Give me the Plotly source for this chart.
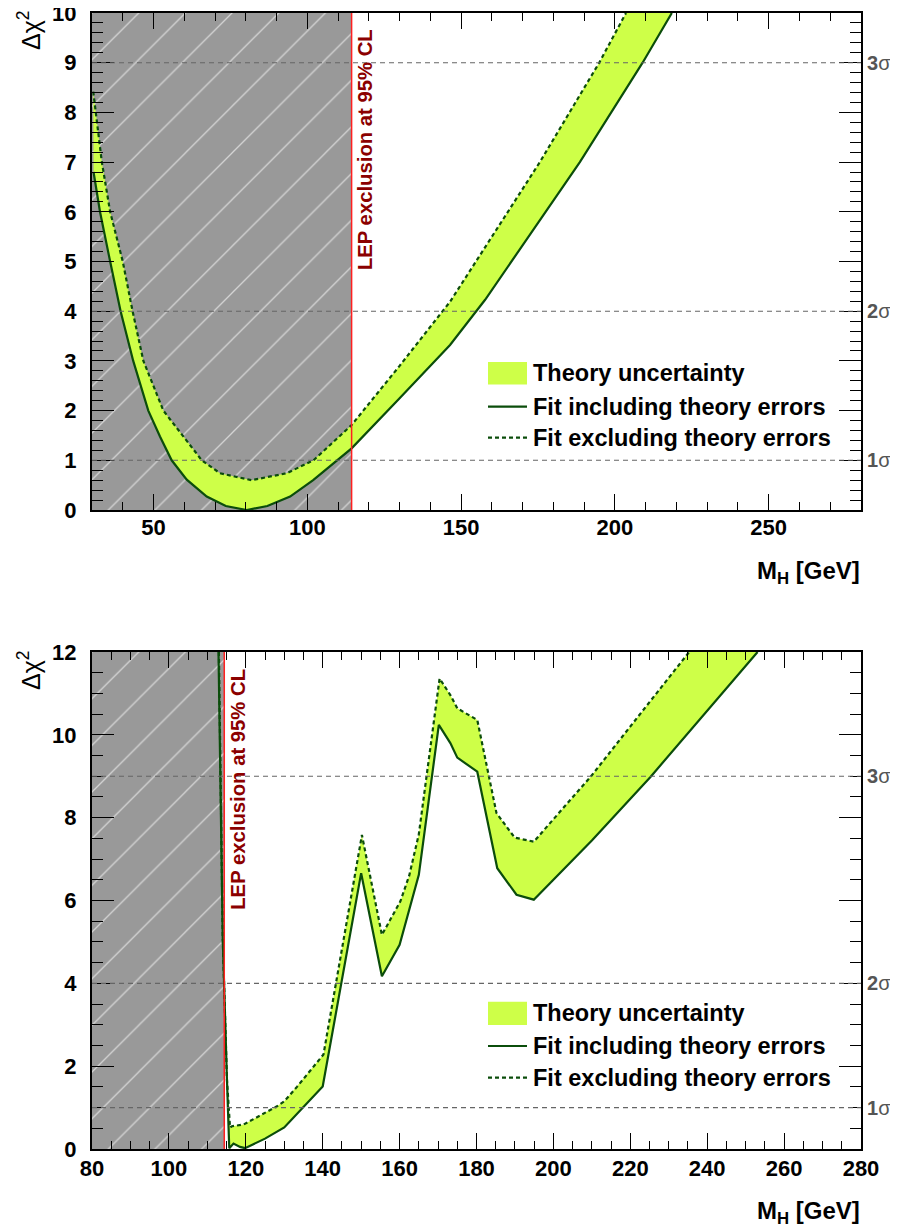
import plotly.graph_objects as go

# ---------------- data ----------------
LEP_LIMIT = 114.4  # GeV, LEP exclusion at 95% CL
SIGMA_LEVELS = [1, 4, 9]
SIGMA_LABELS = ["1", "2", "3"]

# top panel: M_H [GeV] vs delta chi^2
top_x_range = [30, 280]
top_y_range = [0, 10]
top_incl_x = [30.5, 32.6, 35.9, 39.3, 43.4, 48.3, 52.1, 55.9, 60.8, 67.3, 73.5, 80.3,
              87.0, 94.4, 101.9, 109.6, 114.4, 130.0, 146.4, 157.8, 188.6, 209.0, 218.5]
top_incl_y = [6.8, 6.0, 5.0, 4.0, 3.0, 2.0, 1.48, 1.0, 0.61, 0.27, 0.08, 0.0,
              0.08, 0.27, 0.6, 1.0, 1.24, 2.25, 3.32, 4.23, 7.0, 9.0, 10.0]
top_excl_x = [30.4, 33.2, 35.9, 40.0, 43.2, 46.7, 53.2, 59.7, 65.7, 71.6, 81.9, 93.3,
              102.0, 114.4, 130.0, 146.4, 175.6, 194.9, 203.6]
top_excl_y = [8.42, 7.0, 6.0, 5.0, 4.0, 3.0, 2.0, 1.48, 1.0, 0.74, 0.60, 0.74,
              1.0, 1.71, 2.9, 4.19, 7.0, 9.0, 10.0]
top_x_ticks = [50, 100, 150, 200, 250]

# bottom panel
bot_x_range = [80, 280]
bot_y_range = [0, 12]
bot_incl_x = [112.9, 114.0, 115.1, 115.7, 116.8, 118.5, 119.8, 125.0, 130.0, 140.0,
              150.0, 155.4, 160.0, 165.0, 170.2, 173.2, 175.0, 180.2, 185.4, 190.4,
              194.9, 210.0, 225.3, 253.1]
bot_incl_y = [12.0, 5.1, 1.67, 0.02, 0.13, 0.05, 0.02, 0.25, 0.52, 1.51,
              6.66, 4.17, 4.93, 6.62, 10.24, 9.80, 9.45, 9.11, 6.78, 6.14,
              6.02, 7.45, 8.99, 12.0]
bot_excl_x = [113.0, 114.0, 115.1, 115.9, 116.4, 119.4, 128.1, 130.0, 133.3, 140.2,
              150.2, 155.4, 160.2, 162.5, 165.0, 170.4, 173.2, 175.0, 180.2, 185.2, 189.9,
              194.9, 209.7, 235.3]
bot_excl_y = [12.0, 5.1, 1.67, 0.52, 0.55, 0.59, 1.03, 1.15, 1.5, 2.28,
              7.58, 5.17, 5.98, 6.6, 7.6, 11.36, 10.96, 10.64, 10.36, 8.11, 7.52,
              7.42, 8.99, 12.0]
bot_x_ticks = list(range(80, 281, 20))

LEGEND_TEXT = ["Theory uncertainty", "Fit including theory errors", "Fit excluding theory errors"]

# ---------------- styling ----------------
# the page body adds an 8px margin, so the figure is 8px smaller than the window
PAGE_OFF = 8
W, H = 898 - PAGE_OFF, 1228 - PAGE_OFF
ML, MR, MT, MB = 92 - PAGE_OFF, 37, 13 - PAGE_OFF, 79
PW = W - ML - MR
PH = H - MT - MB

def px(x):
    """window pixel x -> paper fraction"""
    return (x - PAGE_OFF - ML) / PW

def py(y):
    """window pixel y -> paper fraction"""
    return (H - MB - (y - PAGE_OFF)) / PH

BAND = "rgb(206,255,72)"
LINE = "#0b4d0b"
GRAY_BG = "#999999"
FONT = "Liberation Sans"

fig = go.Figure()

panels = [
    dict(xa="x", ya="y", xr=top_x_range, yr=top_y_range, ix=top_incl_x, iy=top_incl_y,
         ex=top_excl_x, ey=top_excl_y),
    dict(xa="x2", ya="y2", xr=bot_x_range, yr=bot_y_range, ix=bot_incl_x, iy=bot_incl_y,
         ex=bot_excl_x, ey=bot_excl_y),
]

for p in panels:
    # hatched LEP-excluded region
    fig.add_trace(go.Scatter(
        x=[p["xr"][0], LEP_LIMIT, LEP_LIMIT, p["xr"][0], p["xr"][0]],
        y=[p["yr"][0], p["yr"][0], p["yr"][1], p["yr"][1], p["yr"][0]],
        xaxis=p["xa"], yaxis=p["ya"], mode="lines", fill="toself",
        fillcolor=GRAY_BG, line=dict(width=0),
        fillpattern=dict(shape="/", bgcolor=GRAY_BG, fgcolor="#d4d4d4", size=33, solidity=0.04),
        hoverinfo="skip", showlegend=False))
    # theory uncertainty band
    fig.add_trace(go.Scatter(
        x=p["ix"] + p["ex"][::-1], y=p["iy"] + p["ey"][::-1],
        xaxis=p["xa"], yaxis=p["ya"], mode="lines", fill="toself",
        fillcolor=BAND, line=dict(width=0), hoverinfo="skip", showlegend=False))
    fig.add_trace(go.Scatter(
        x=p["ix"], y=p["iy"], xaxis=p["xa"], yaxis=p["ya"], mode="lines",
        line=dict(color=LINE, width=2.2), showlegend=False, name=LEGEND_TEXT[1]))
    fig.add_trace(go.Scatter(
        x=p["ex"], y=p["ey"], xaxis=p["xa"], yaxis=p["ya"], mode="lines",
        line=dict(color=LINE, width=2.2, dash="4px,3px"), showlegend=False, name=LEGEND_TEXT[2]))

tickfont = dict(family=FONT, size=22, color="black", weight="bold")

def axis_common():
    return dict(showgrid=False, zeroline=False, showline=True, linecolor="black", linewidth=2,
                mirror="allticks", ticks="inside", tickcolor="black", tickwidth=1.2,
                tickfont=tickfont, automargin=False, ticklabeloverflow="allow")

top_dom = [py(510), 1.0]
bot_dom = [0.0, py(652)]

fig.update_layout(
    template="none",
    width=W, height=H, margin=dict(l=ML, r=MR, t=MT, b=MB, autoexpand=False),
    paper_bgcolor="white", plot_bgcolor="white", showlegend=False,
    xaxis=dict(domain=[0, 1], range=top_x_range, anchor="y", tickvals=top_x_ticks,
               ticklen=16, minor=dict(dtick=10, ticklen=8, ticks="inside", tickcolor="black", tickwidth=1.2),
               ticklabelstandoff=-3, **axis_common()),
    yaxis=dict(domain=top_dom, range=top_y_range, anchor="x", dtick=1, tick0=0,
               ticklen=22, minor=dict(dtick=0.2, ticklen=11, ticks="inside", tickcolor="black", tickwidth=1.2),
               ticklabelstandoff=9, **axis_common()),
    xaxis2=dict(domain=[0, 1], range=bot_x_range, anchor="y2", tickvals=bot_x_ticks,
                ticklen=16, minor=dict(dtick=5, ticklen=8, ticks="inside", tickcolor="black", tickwidth=1.2),
                ticklabelstandoff=-1, **axis_common()),
    yaxis2=dict(domain=bot_dom, range=bot_y_range, anchor="x2", dtick=2, tick0=0,
                ticklen=22, minor=dict(dtick=0.5, ticklen=11, ticks="inside", tickcolor="black", tickwidth=1.2),
                ticklabelstandoff=9, **axis_common()),
)

shapes = []
annotations = []
for p, ax_suffix in zip(panels, ["", "2"]):
    xref = "x" + ax_suffix
    yref = "y" + ax_suffix
    for lvl, lab in zip(SIGMA_LEVELS, SIGMA_LABELS):
        shapes.append(dict(type="line", xref=xref + " domain", yref=yref, x0=0, x1=1, y0=lvl, y1=lvl,
                           line=dict(color="#666666", width=1.1, dash="5px,4px"), layer="above"))
        annotations.append(dict(xref="paper", yref=yref, x=px(865), y=lvl, xanchor="left",
                                yanchor="middle", showarrow=False,
                                text="<b>" + lab + "</b>σ",
                                font=dict(family=FONT, size=20, color="#555555")))
    shapes.append(dict(type="line", xref=xref, yref=yref + " domain", x0=LEP_LIMIT, x1=LEP_LIMIT,
                       y0=0, y1=1, line=dict(color="#ff2020", width=1.5), layer="above"))

# LEP text
for top_px, ax_suffix in [(27, ""), (667, "2")]:
    annotations.append(dict(xref="x" + ax_suffix, yref="paper", x=LEP_LIMIT, y=py(top_px),
                            xanchor="left", yanchor="top", xshift=0, textangle=-90,
                            showarrow=False, text="<b>LEP exclusion at 95% CL</b>",
                            font=dict(family=FONT, size=20.3, color="#8b0000")))

# y-axis titles and x-axis titles
for ytop, xtitle_top in [(8, 555), (648, 1195)]:
    annotations.append(dict(xref="paper", yref="paper", x=px(29), y=py(ytop), xanchor="center",
                            yanchor="top", textangle=-90, showarrow=False,
                            text="Δχ<sup>2</sup>", font=dict(family=FONT, size=25, color="black")))
    annotations.append(dict(xref="paper", yref="paper", x=px(862), y=py(xtitle_top), xanchor="right",
                            yanchor="top", showarrow=False,
                            text="<b>M<sub>H</sub> [GeV]</b>",
                            font=dict(family=FONT, size=24, color="black")))

# legends (drawn manually)
for sw_top, sw_bot, row1, row2, row3 in [(362, 384.5, 373, 406.7, 437.7),
                                         (1001.7, 1025, 1013, 1046, 1077.7)]:
    shapes.append(dict(type="rect", xref="paper", yref="paper", x0=px(488), x1=px(527),
                       y0=py(sw_bot), y1=py(sw_top), fillcolor=BAND, line=dict(width=0)))
    shapes.append(dict(type="line", xref="paper", yref="paper", x0=px(488), x1=px(527),
                       y0=py(row2), y1=py(row2), line=dict(color=LINE, width=2.2)))
    shapes.append(dict(type="line", xref="paper", yref="paper", x0=px(488), x1=px(527),
                       y0=py(row3), y1=py(row3), line=dict(color=LINE, width=2.2, dash="4px,3px")))
    for txt, ry in zip(LEGEND_TEXT, [row1, row2, row3]):
        annotations.append(dict(xref="paper", yref="paper", x=px(531), y=py(ry), xanchor="left",
                                yanchor="middle", showarrow=False, text="<b>" + txt + "</b>",
                                font=dict(family=FONT, size=23.5, color="black")))

fig.update_layout(shapes=shapes, annotations=annotations)
fig.write_html("out.html")
